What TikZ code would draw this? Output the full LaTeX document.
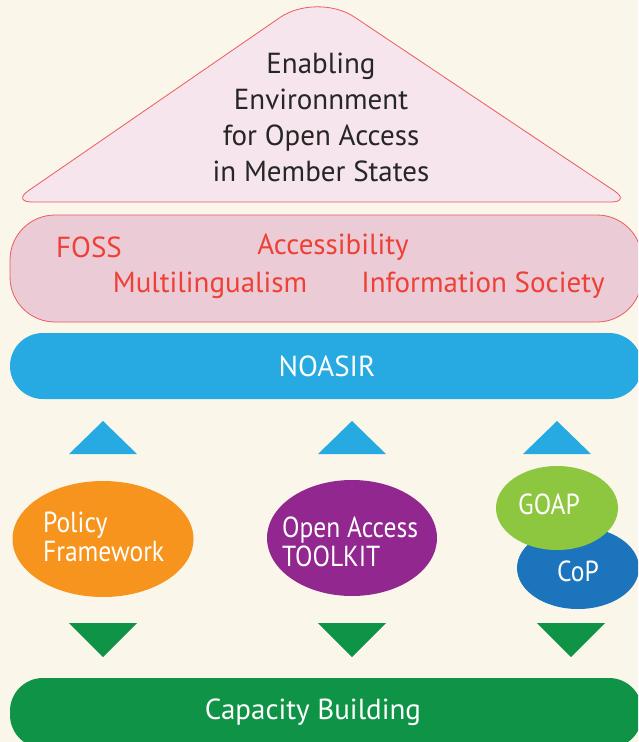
\documentclass[tikz,border=0pt]{standalone}
\usepackage{fontspec}
\setmainfont{PT Sans}
\usetikzlibrary{shapes.geometric}
\definecolor{bg}{HTML}{FAF7EA}
\definecolor{tri}{HTML}{F6E5EC}
\definecolor{band}{HTML}{EACBD6}
\definecolor{redline}{HTML}{EC5A60}
\definecolor{redtext}{HTML}{EE4036}
\definecolor{sky}{HTML}{27AAE1}
\definecolor{orangeC}{HTML}{F7941D}
\definecolor{purpleC}{HTML}{92278F}
\definecolor{limeC}{HTML}{8DC63F}
\definecolor{blueC}{HTML}{1C75BC}
\definecolor{greenC}{HTML}{0F9447}
\tikzset{
  bigtext/.style={font=\fontsize{29}{36}\selectfont},
  tighttext/.style={font=\fontsize{29}{29}\selectfont\addfontfeature{FakeStretch=0.88}},
  redlbl/.style={bigtext, text=redtext, inner sep=0pt},
  whitelbl/.style={bigtext, text=white, inner sep=0pt},
  uparrow/.style={fill=sky},
  downarrow/.style={fill=greenC},
  blob/.style={ellipse, draw=none, inner sep=0pt},
}
\begin{document}
\begin{tikzpicture}[x=1pt,y=-1pt]
\useasboundingbox (0,0) rectangle (638,742);
\clip (0,0) rectangle (638,742);
\fill[bg] (0,0) rectangle (638,742);
% triangle
\draw[redline, fill=tri, line width=0.8pt] (320,202) [rounded corners=20pt] -- (12,202) [rounded corners=45pt] -- (317,-8) [rounded corners=20pt] -- (631,202) -- cycle;
\node[bigtext, align=center, text=black!85, inner sep=0pt] (env) at (321,117) {Enabling\\Environnment\\for Open Access\\in Member States};
% band
\draw[redline, fill=band, line width=0.8pt, rounded corners=45pt] (10,215) rectangle (642,322);
\node[redlbl] (foss) at (89,247) {FOSS};
\node[redlbl] (acc) at (333,247) {Accessibility};
\node[redlbl] (multi) at (210,285) {Multilingualism};
\node[redlbl] (info) at (483,285) {Information Society};
% NOASIR
\fill[sky, rounded corners=33pt] (10,333) rectangle (642,399);
\node[whitelbl] (noasir) at (327,366) {NOASIR};
% up triangles
\fill[uparrow] (69,454) -- (103,421) -- (137,454) -- cycle;
\fill[uparrow] (318,454) -- (352,421) -- (386,454) -- cycle;
\fill[uparrow] (523,454) -- (557,421) -- (591,454) -- cycle;
% ellipses
\node[blob, fill=orangeC, minimum width=181pt, minimum height=116pt] (policy) at (103,539) {};
\node[whitelbl, tighttext, align=left, anchor=west] (policyt) at (43,537) {Policy\\Framework};
\node[blob, fill=purpleC, minimum width=170pt, minimum height=116pt] (toolkit) at (352,538) {};
\node[whitelbl, tighttext, align=left, anchor=west] (toolkitt) at (282,542) {Open Access\\TOOLKIT};
\node[blob, fill=blueC, minimum width=122pt, minimum height=82pt] (cop) at (578,568) {};
\node[blob, fill=limeC, minimum width=122pt, minimum height=84pt] (goap) at (557,508) {};
\node[whitelbl, tighttext] (goapt) at (549,504) {GOAP};
\node[whitelbl, tighttext] (copt) at (578,571) {CoP};
% down triangles
\fill[downarrow] (69,623) -- (137,623) -- (103,657) -- cycle;
\fill[downarrow] (318,623) -- (386,623) -- (352,657) -- cycle;
\fill[downarrow] (537,623) -- (605,623) -- (571,657) -- cycle;
% capacity
\fill[greenC, rounded corners=33pt] (10,678) rectangle (642,748);
\node[whitelbl] (cap) at (313,712) {Capacity Building};
\end{tikzpicture}
\end{document}
